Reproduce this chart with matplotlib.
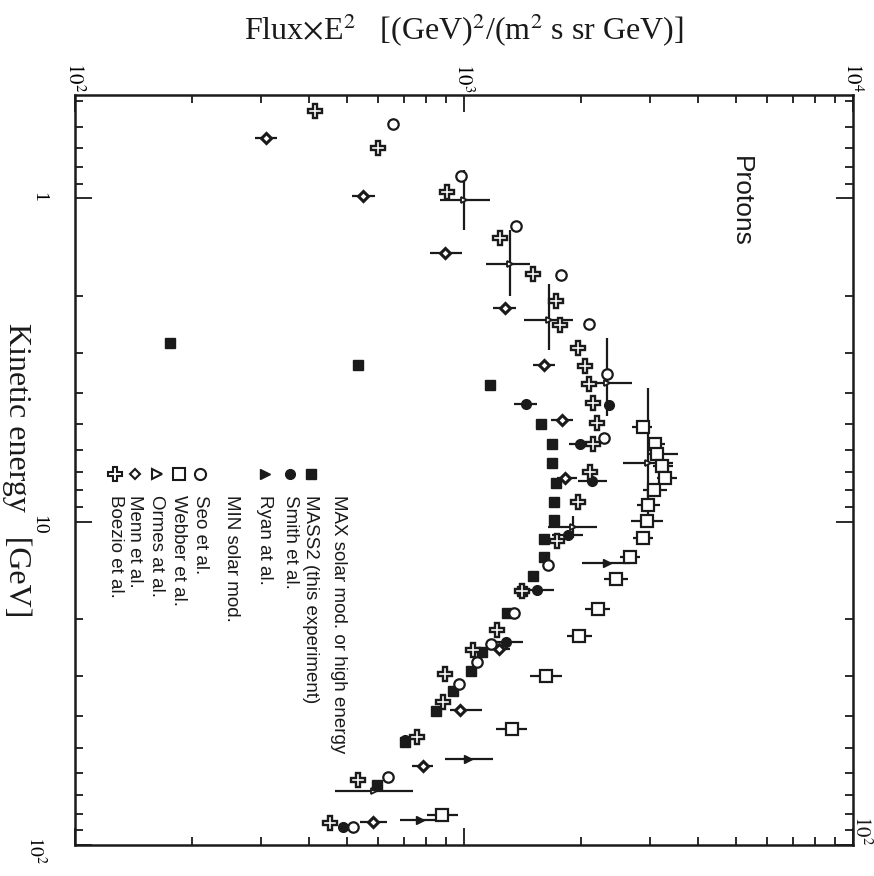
import numpy as np
import matplotlib
matplotlib.use("Agg")
import matplotlib.pyplot as plt
from matplotlib.lines import Line2D
from matplotlib.ticker import LogLocator, FuncFormatter, NullFormatter

plt.rcParams['mathtext.fontset'] = 'stix'

# kinetic energy [GeV] and Flux*E^2 for each data set
mass2_e = [2.80, 3.28, 3.78, 5.00, 5.77, 6.60, 7.57, 8.67, 9.86, 11.3, 12.9, 14.7, 16.4,
           19.2, 25.3, 29.0, 33.5, 38.4, 47.9, 65.1]
mass2_f = [175, 534, 1167, 1578, 1684, 1684, 1726, 1703, 1703, 1606, 1606, 1504, 1409,
           1290, 1112, 1042, 937, 848, 705, 597]

smith_e = [4.33, 4.36, 5.77, 7.51, 11.0, 16.3, 23.6, 47.5, 65.6, 87.9]
smith_f = [1443, 2359, 1988, 2133, 1851, 1540, 1282, 705, 598, 489]
smith_lo = [1345, 2359, 1862, 1963, 1683, 1435, 1167, 705, 598, 489]
smith_hi = [1542, 2359, 2070, 2333, 2023, 1700, 1416, 705, 598, 489]

ryan_e = [13.4, 54.1, 83.6]
ryan_f = [2333, 1024, 771]
ryan_lo = [2010, 893, 684]
ryan_hi = [2672, 1188, 877]

seo_e = [0.589, 0.855, 1.22, 1.72, 2.44, 3.50, 5.52, 13.6, 19.2, 23.9, 27.2, 31.8, 61.5, 87.9]
seo_f = [657, 982, 1361, 1776, 2096, 2333, 2291, 1644, 1345, 1173, 1080, 971, 638, 518]

webber_e = [5.11, 5.77, 6.19, 6.75, 7.35, 7.96, 8.86, 9.93, 11.2, 12.9, 15.0, 18.6, 22.6,
            30.1, 43.9, 80.7]
webber_f = [2884, 3097, 3133, 3228, 3285, 3077, 2972, 2953, 2884, 2672, 2460, 2211, 1975,
            1625, 1328, 878]
webber_lo = [2704, 2952, 2972, 3061, 3133, 2884, 2784, 2685, 2718, 2518, 2291, 2047, 1840,
             1478, 1209, 803]
webber_hi = [3043, 3286, 3548, 3443, 3528, 3324, 3192, 3248, 3061, 2834, 2640, 2373, 2133,
             1786, 1452, 965]

ormes_e = [1.014, 1.60, 2.38, 3.73, 6.60, 10.4, 68.0]
ormes_f = [1000, 1313, 1654, 2333, 2972, 1905, 587]
ormes_flo = [867, 1139, 1426, 2047, 2563, 1644, 466]
ormes_fhi = [1167, 1478, 1905, 2704, 3443, 2198, 740]
ormes_elo = [0.818, 1.257, 1.84, 2.70, 3.86, 9.6, 68.0]
ormes_ehi = [1.257, 2.0, 2.94, 4.72, 9.5, 11.2, 68.0]

menn_e = [0.651, 0.986, 1.48, 2.18, 3.28, 4.86, 7.35, 24.8, 38.1, 56.9, 84.8]
menn_f = [310, 550, 894, 1275, 1606, 1786, 1819, 1230, 977, 785, 584]
menn_lo = [290, 515, 818, 1188, 1504, 1674, 1735, 1152, 920, 735, 541]
menn_hi = [331, 590, 988, 1361, 1714, 1905, 1952, 1313, 1112, 832, 634]

boezio_e = [0.537, 0.699, 0.958, 1.33, 1.71, 2.07, 2.46, 2.90, 3.30, 3.76, 4.30, 4.96, 5.77,
            7.0, 8.67, 11.5, 16.4, 21.6, 25.0, 29.6, 36.2, 46.5, 62.8, 85.5]
boezio_f = [414, 601, 904, 1238, 1504, 1725, 1766, 1963, 2047, 2096, 2146, 2198, 2146,
            2108, 1963, 1735, 1410, 1216, 1055, 894, 883, 757, 534, 453]

INK = '#1a1a1a'
W, H = 874, 876


def ferr(f, lo, hi):
    f, lo, hi = np.array(f), np.array(lo), np.array(hi)
    return [f - lo, hi - f]


fig = plt.figure(figsize=(W / 100, H / 100), dpi=100)
ax = fig.add_axes([75 / W, 31 / H, 778 / W, 750 / H])

# the plot is turned on its side: flux runs across, energy runs down
ebar = dict(ecolor=INK, elinewidth=1.6, capsize=0, linestyle='none')
ax.errorbar(webber_f, webber_e, xerr=ferr(webber_f, webber_lo, webber_hi), marker='s', ms=8,
            mfc='white', mec=INK, mew=1.6, zorder=3, **ebar)
ax.errorbar(ormes_f, ormes_e, xerr=ferr(ormes_f, ormes_flo, ormes_fhi),
            yerr=ferr(ormes_e, ormes_elo, ormes_ehi), marker='>', ms=4.5,
            mfc='white', mec=INK, mew=1.3, zorder=3, **ebar)
ax.errorbar(menn_f, menn_e, xerr=ferr(menn_f, menn_lo, menn_hi), marker='D', ms=5,
            mfc='white', mec=INK, mew=2.2, zorder=3, **ebar)
ax.errorbar(ryan_f, ryan_e, xerr=ferr(ryan_f, ryan_lo, ryan_hi), marker='>', ms=6,
            mfc=INK, mec=INK, zorder=3, **ebar)
ax.errorbar(smith_f, smith_e, xerr=ferr(smith_f, smith_lo, smith_hi), marker='o', ms=7,
            mfc=INK, mec=INK, zorder=4, **ebar)
ax.plot(mass2_f, mass2_e, 's', ms=7, mfc=INK, mec=INK, zorder=4)
ax.plot(seo_f, seo_e, 'o', ms=7.5, mfc='white', mec=INK, mew=1.6, zorder=4)
ax.plot(boezio_f, boezio_e, 'P', ms=10.5, mfc='white', mec=INK, mew=1.7, zorder=5)

ax.set_xscale('log')
ax.set_yscale('log')
ax.set_xlim(100, 10000)
ax.set_ylim(100, 0.479)

for s in ax.spines.values():
    s.set_linewidth(1.8)
    s.set_color(INK)

ax.xaxis.set_major_locator(LogLocator(base=10, numticks=10))
ax.xaxis.set_minor_locator(LogLocator(base=10, subs=np.arange(2, 10), numticks=20))
ax.yaxis.set_major_locator(LogLocator(base=10, numticks=10))
ax.yaxis.set_minor_locator(LogLocator(base=10, subs=np.arange(2, 10), numticks=20))
ax.xaxis.set_minor_formatter(NullFormatter())
ax.yaxis.set_minor_formatter(NullFormatter())
ax.xaxis.set_major_formatter(FuncFormatter(lambda v, p: r'$10^{%d}$' % round(np.log10(v))))
ax.yaxis.set_major_formatter(FuncFormatter(
    lambda v, p: {1: '1', 10: '10'}.get(int(round(v)), r'$10^{%d}$' % round(np.log10(v)))))

ax.tick_params(which='both', direction='in', top=True, bottom=True, left=True, right=True,
               labeltop=True, labelbottom=False, color=INK, width=1.3)
ax.tick_params(which='major', length=12)
ax.tick_params(which='minor', length=6)
ax.tick_params(axis='x', labelrotation=270, labelsize=15, pad=2)
ax.tick_params(axis='y', labelrotation=270, labelsize=14, pad=20)
for lab in ax.get_yticklabels():
    lab.set_family('Liberation Serif')

# axis titles
fig.text(464 / W, 1 - 30 / H, r'Flux$\times$E$^2$   [(GeV)$^2$/(m$^2$ s sr GeV)]',
         family='Liberation Serif', fontsize=23, ha='center', va='center', color=INK)
fig.text(17 / W, 1 - 470 / H, 'Kinetic energy   [GeV]', family='Liberation Serif',
         fontsize=23, rotation=270, ha='center', va='center', color=INK)
fig.text(862 / W, 1 - 830 / H, r'$10^{2}$', fontsize=15, rotation=270,
         ha='center', va='center', color=INK)
fig.text(741 / W, 1 - 201 / H, 'Protons', family='Liberation Sans', fontsize=19,
         rotation=270, ha='center', va='center', color=INK)


# key, written sideways like the rest of the figure
def key(x, label, marker=None, **kw):
    if marker:
        fig.add_artist(Line2D([x / W], [1 - 474 / H], marker=marker, linestyle='none',
                              mec=INK, transform=fig.transFigure, **kw))
    fig.text(x / W, 1 - 495 / H, label, family='Liberation Sans', fontsize=13.5,
             rotation=270, ha='center', va='top', color=INK)


key(338, 'MAX solar mod. or high energy')
key(311, 'MASS2 (this experiment)', 's', ms=7, mfc=INK)
key(290, 'Smith et al.', 'o', ms=7, mfc=INK)
key(265, 'Ryan at al.', '>', ms=7, mfc=INK)
key(232, 'MIN solar mod.')
key(200, 'Seo et al.', 'o', ms=8, mfc='white', mew=1.5)
key(179, 'Webber et al.', 's', ms=8, mfc='white', mew=1.5)
key(157, 'Ormes at al.', '>', ms=7, mfc='white', mew=1.5)
key(135, 'Menn et al.', 'D', ms=5, mfc='white', mew=1.5)
key(115, 'Boezio et al.', 'P', ms=10, mfc='white', mew=1.5)

fig.savefig('out.png', dpi=100)
